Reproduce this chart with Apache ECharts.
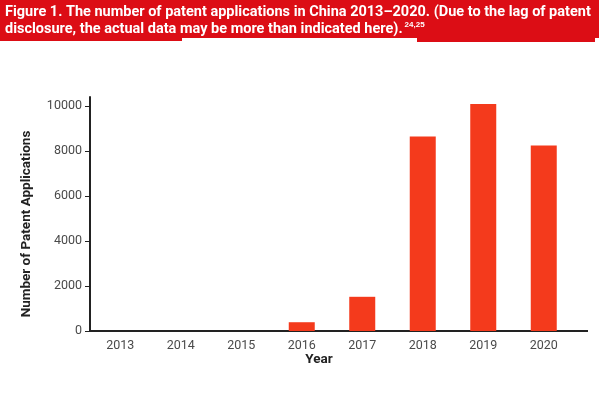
<!DOCTYPE html>
<html lang="en">
<head>
    <meta charset="UTF-8">
    <title>Patent applications in China</title>
    <script src="https://cdn.jsdelivr.net/npm/echarts@6/dist/echarts.min.js"></script>
    <style>
        html, body { margin: 0; padding: 0; background: #fff; }
    </style>
</head>
<body>
    <div id="main" style="width: 599px;height:396px;"></div>

    <script type="text/javascript">
        // data
        var years = ['2013', '2014', '2015', '2016', '2017', '2018', '2019', '2020'];
        var applications = [0, 0, 0, 390, 1520, 8640, 10090, 8250];
        var yTicks = [0, 2000, 4000, 6000, 8000, 10000];

        var titleLine1 = 'Figure 1. The number of patent applications in China 2013\u20132020. (Due to the lag of patent';
        var titleLine2 = 'disclosure, the actual data may be more than indicated here).';

        var myChart = echarts.init(document.getElementById('main'));
        var font = 'Roboto, "Liberation Sans", sans-serif';

        var option = {
            animation: false,
            grid: { left: 90, right: 25, top: 97, bottom: 65 },
            xAxis: {
                type: 'category',
                data: years,
                axisLine: { lineStyle: { color: '#222', width: 2 } },
                axisTick: { alignWithLabel: true, length: 5, lineStyle: { color: '#222' } },
                axisLabel: { color: '#4a4a4a', fontSize: 12.5, fontFamily: font, margin: 8 }
            },
            yAxis: {
                type: 'value',
                min: 0,
                max: 10400,
                splitLine: { show: false },
                axisLine: { show: true, lineStyle: { color: '#222', width: 2 } },
                axisTick: { show: true, length: 5, customValues: yTicks, lineStyle: { color: '#222' } },
                axisLabel: {
                    color: '#4a4a4a', fontSize: 12.5, fontFamily: font, margin: 8, customValues: yTicks,
                    formatter: function (v) { return String(v); }
                }
            },
            series: [{
                type: 'bar',
                data: applications,
                barWidth: 26,
                itemStyle: { color: '#f43a1c' }
            }],
            graphic: [
                { type: 'rect', shape: { x: 0, y: 0, width: 599, height: 38 }, style: { fill: '#dc0d15' } },
                { type: 'rect', shape: { x: 0, y: 0, width: 182, height: 41 }, style: { fill: '#dc0d15' } },
                { type: 'rect', shape: { x: 417, y: 0, width: 178, height: 42 }, style: { fill: '#dc0d15' } },
                {
                    type: 'text', left: 5, top: 4,
                    style: {
                        text: titleLine1 + '\n' + titleLine2 + '{sup|24,25}',
                        fill: '#fff', font: 'bold 14.5px ' + font, lineHeight: 17,
                        rich: { sup: { fontSize: 8, fill: '#fff', fontWeight: 'bold', verticalAlign: 'top', padding: [0, 0, 6, 2] } }
                    }
                },
                // axis line continues past the last category
                { type: 'line', shape: { x1: 574, y1: 331, x2: 588, y2: 331 }, style: { stroke: '#222', lineWidth: 2 } },
                {
                    type: 'text', x: 27, y: 224, rotation: Math.PI / 2,
                    style: { text: 'Number of Patent Applications', fill: '#222', font: 'bold 13.5px ' + font, textAlign: 'center', textVerticalAlign: 'middle' }
                },
                {
                    type: 'text', x: 319, y: 360,
                    style: { text: 'Year', fill: '#222', font: 'bold 13.5px ' + font, textAlign: 'center', textVerticalAlign: 'middle' }
                }
            ]
        };

        myChart.setOption(option);
    </script>
</body>
</html>
